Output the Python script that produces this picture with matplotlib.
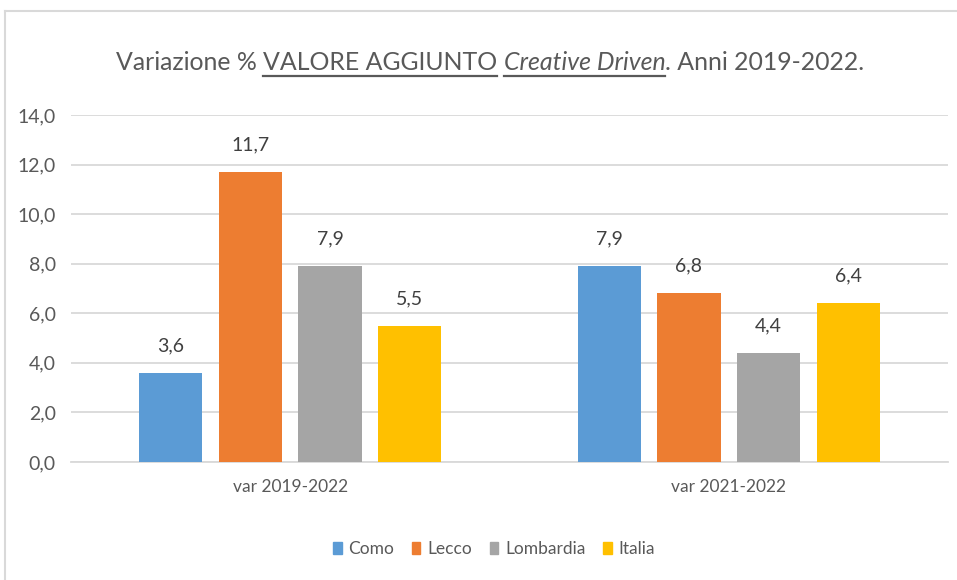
import matplotlib
matplotlib.use("Agg")
import matplotlib.pyplot as plt
from matplotlib.lines import Line2D
from matplotlib.patches import Patch
import numpy as np

# data
categories = ["var 2019-2022", "var 2021-2022"]
series = ["Como", "Lecco", "Lombardia", "Italia"]
como = [3.6, 7.9]
lecco = [11.7, 6.8]
lombardia = [7.9, 4.4]
italia = [5.5, 6.4]
colors = ["#5B9BD5", "#ED7D31", "#A5A5A5", "#FFC000"]
yticks = [0, 2, 4, 6, 8, 10, 12, 14]

plt.rcParams["font.family"] = ["Lato", "DejaVu Sans"]

W, H = 957, 580
fig = plt.figure(figsize=(W / 100, H / 100), dpi=100)
ax = fig.add_axes([71 / W, 1 - 462 / H, (948 - 71) / W, (462 - 115) / H])

values = [como, lecco, lombardia, italia]
x = np.arange(len(categories))
bw = 0.144
step = 0.1815
for i, (name, vals, c) in enumerate(zip(series, values, colors)):
    pos = x + (i - 1.5) * step
    ax.bar(pos, vals, width=bw, color=c, label=name, zorder=3)
    for p, v in zip(pos, vals):
        ax.annotate(f"{v:.1f}".replace(".", ","), (p, v), xytext=(0, 19.5),
                    textcoords="offset points", ha="center", va="center",
                    fontsize=14, color="#404040")

ax.set_xlim(-0.5, 1.5)
ax.set_ylim(0, 14)
ax.set_yticks(yticks)
ax.set_yticklabels([f"{t:.1f}".replace(".", ",") for t in yticks])
ax.set_xticks(x)
ax.set_xticklabels(categories)
ax.grid(axis="y", color="#D9D9D9", linewidth=1.3, zorder=0)
for s in ["top", "right", "left"]:
    ax.spines[s].set_visible(False)
ax.spines["bottom"].set_color("#D9D9D9")
ax.spines["bottom"].set_linewidth(1.3)
ax.tick_params(axis="y", length=0, pad=11, labelsize=14, labelcolor="#595959")
ax.tick_params(axis="x", length=0, pad=12, labelsize=12.5, labelcolor="#595959")

# legend
handles = [Patch(color=c, label=n) for n, c in zip(series, colors)]
fig.legend(handles=handles, loc="center", bbox_to_anchor=(494 / W, 1 - 549 / H),
           ncol=4, frameon=False, fontsize=12.5, labelcolor="#595959",
           handlelength=0.5, handleheight=0.75, handletextpad=0.4, columnspacing=1.0)

# chart border (top and left)
fig.add_artist(Line2D([5 / W, 1], [1 - 11 / H, 1 - 11 / H], color="#D9D9D9", lw=1.5))
fig.add_artist(Line2D([5 / W, 5 / W], [0, 1 - 11 / H], color="#D9D9D9", lw=1.5))

# title built from pieces (underlined / italic parts)
fig.canvas.draw()
r = fig.canvas.get_renderer()
tcol = "#595959"
pieces = [("Variazione % ", "normal"), ("VALORE AGGIUNTO", "normal"),
          (" ", "normal"), ("Creative Driven", "italic"),
          (". Anni 2019-2022.", "normal")]
underline = [False, True, False, True, False]


def width_of(s, style, size):
    t = fig.text(0, 0, s.replace(" ", "\u00a0"), fontsize=size, style=style)
    w = t.get_window_extent(r).width
    t.remove()
    return w


tsize = 22
total = sum(width_of(s, st, tsize) for s, st in pieces)
tsize = tsize * 749 / total
widths = [width_of(s, st, tsize) for s, st in pieces]
xs = 116
for (s, st), w, ul in zip(pieces, widths, underline):
    fig.text(xs / W, 1 - 70 / H, s.replace(" ", "\u00a0"), fontsize=tsize, style=st,
             color=tcol, ha="left", va="baseline")
    if ul:
        fig.add_artist(Line2D([xs / W, (xs + w) / W], [1 - 76 / H, 1 - 76 / H],
                              color=tcol, lw=1.6))
    xs += w

fig.savefig("out.png", dpi=100)
